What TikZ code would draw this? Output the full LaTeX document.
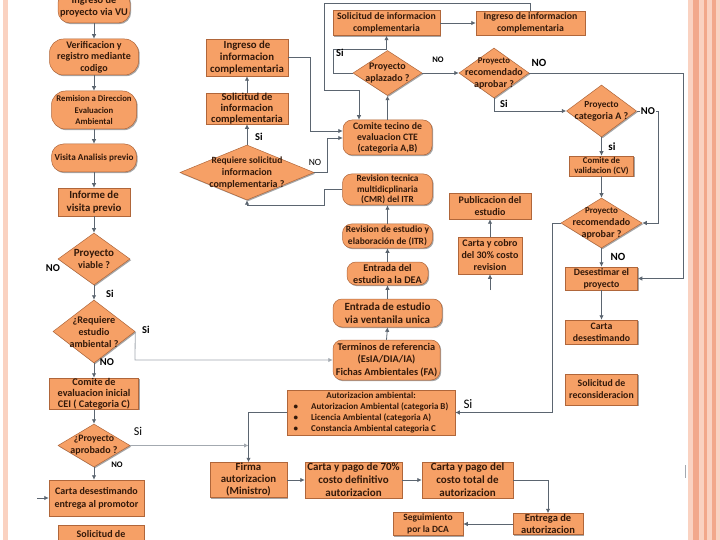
\documentclass[tikz,border=0pt]{standalone}
\usepackage{fontspec}
\setmainfont{Carlito}
\usetikzlibrary{shapes.geometric,arrows.meta,shadows}
\definecolor{boxc}{HTML}{F6A066}
\definecolor{bordc}{HTML}{B0663A}
\definecolor{txtc}{HTML}{33190A}
\definecolor{linec}{HTML}{5B6570}
\definecolor{faint}{HTML}{A3A9B0}
\definecolor{stripe}{HTML}{FAD2C1}
\definecolor{stripeD}{HTML}{F2A88B}
\tikzset{
 shp/.style={draw=bordc, fill=boxc, line width=0.5pt, drop shadow={shadow xshift=1.2pt, shadow yshift=-1.2pt, opacity=0.35, fill=black}},
 box/.style={shp, rectangle, inner sep=0pt, align=center, text=txtc, font=\bfseries\fontsize{10}{12}\selectfont},
 rbox/.style={box, rounded corners=9pt},
 dia/.style={shp, diamond, inner sep=0pt},
 dtxt/.style={align=center, text=txtc, font=\bfseries\fontsize{10}{12}\selectfont, inner sep=0pt},
 conn/.style={draw=linec, line width=0.8pt, -{Latex[length=4.5pt,width=4.5pt]}},
 fconn/.style={conn, draw=faint},
 lbl/.style={font=\bfseries\fontsize{10.5}{12}\selectfont, text=black, inner sep=0pt},
 lblr/.style={font=\fontsize{13}{14}\selectfont, text=black, inner sep=0pt},
}
\newcommand\mydia[6]{\node[dia, minimum width=#4pt, minimum height=#5pt] (#1) at (#2,#3) {};
 \node[dtxt] at (#1.center) {#6};}
\begin{document}
\begin{tikzpicture}[x=1pt,y=-1pt]
\useasboundingbox (0,0) rectangle (720,540);
\clip (0,0) rectangle (720,540);
\fill[white] (0,0) rectangle (720,540);
% page stripes
\fill[stripe] (3,0) rectangle (8,540);
\fill[stripe] (688,0) rectangle (720,540);
\fill[stripeD] (693,0) rectangle (699,540);
\fill[stripeD] (704,0) rectangle (707,540);
\fill[stripeD] (712,0) rectangle (716,540);
\draw[faint, line width=0.8pt] (685,465) -- (685,478);

% ---------- left column ----------
\node[rbox, rounded corners=12pt, minimum width=72pt, minimum height=32pt, font=\bfseries\fontsize{10.3}{12}\selectfont] (n1) at (94,7) {Ingreso de\\proyecto via VU};
\node[rbox, rounded corners=14pt, minimum width=89pt, minimum height=36pt, font=\bfseries\fontsize{10}{11.5}\selectfont] (n2) at (94,57) {Verificacion y\\registro mediante\\codigo};
\node[rbox, rounded corners=14pt, minimum width=85pt, minimum height=38pt, font=\bfseries\fontsize{8.7}{11.5}\selectfont] (n3) at (94,110) {Remision a Direccion\\Evaluacion\\Ambiental};
\node[rbox, rounded corners=12pt, minimum width=85pt, minimum height=28pt, font=\bfseries\fontsize{9.2}{11}\selectfont] (n4) at (94,158) {Visita Analisis previo};
\node[box, minimum width=72pt, minimum height=28pt, font=\bfseries\fontsize{10.8}{13}\selectfont] (n5) at (94,202) {Informe de\\visita previo};
\mydia{d1}{94}{259}{72}{52}{\fontsize{11}{13}\selectfont Proyecto\\viable ?}
\mydia{d2}{94}{331.5}{82}{63}{\fontsize{10.2}{12}\selectfont ¿Requiere\\estudio\\ambiental ?}
\node[box, minimum width=89pt, minimum height=31pt, font=\bfseries\fontsize{10.2}{11}\selectfont] (n6) at (94,393.5) {Comite de\\evaluacion inicial\\CEI ( Categoria C)};
\mydia{d3}{94}{445.5}{72}{43}{\fontsize{9.8}{12}\selectfont ¿Proyecto\\aprobado ?}
\node[box, minimum width=95pt, minimum height=36pt, font=\bfseries\fontsize{10}{13}\selectfont] (n7) at (96.5,498) {Carta desestimando\\entrega al promotor};
\node[box, minimum width=86pt, minimum height=30pt] (n8) at (101,540) {Solicitud de\\reconsideracion};

% ---------- left-middle ----------
\node[box, minimum width=82pt, minimum height=37pt, font=\bfseries\fontsize{10.8}{12}\selectfont] (l1) at (247,57.5) {Ingreso de\\informacion\\complementaria};
\node[box, minimum width=82pt, minimum height=31pt, font=\bfseries\fontsize{10.5}{11}\selectfont] (l2) at (247,108.5) {Solicitud de\\informacion\\complementaria};
\mydia{dE}{247}{172.5}{134}{55}{\fontsize{9.5}{12}\selectfont Requiere solicitud\\informacion\\complementaria ?}

% ---------- central column ----------
\node[box, minimum width=107pt, minimum height=25pt, font=\bfseries\fontsize{9.8}{11.5}\selectfont] (c1) at (386.5,23) {Solicitud de informacion\\complementaria};
\node[box, minimum width=109pt, minimum height=24pt, font=\bfseries\fontsize{9.8}{11.5}\selectfont] (c2) at (530.5,23) {Ingreso de informacion\\complementaria};
\mydia{dA}{387.5}{73}{69}{45}{Proyecto\\aplazado ?}
\mydia{dB}{494}{73}{70}{50}{\fontsize{8.8}{10.5}\selectfont Proyecto\\recomendado\\aprobar ?}
\node[rbox, minimum width=89pt, minimum height=35pt, font=\bfseries\fontsize{9.8}{11}\selectfont] (c3) at (387.5,137.5) {Comite tecino de\\evaluacion CTE\\(categoria A,B)};
\node[rbox, minimum width=90pt, minimum height=31pt, font=\bfseries\fontsize{9.3}{10.5}\selectfont] (c4) at (387.5,189.5) {Revision tecnica\\multidicplinaria\\(CMR) del ITR};
\node[rbox, minimum width=90pt, minimum height=24pt, font=\bfseries\fontsize{9.5}{11.5}\selectfont] (c5) at (387.5,236) {Revision de estudio y\\elaboración de (ITR)};
\node[rbox, minimum width=81pt, minimum height=23pt, font=\bfseries\fontsize{10.2}{12}\selectfont] (c6) at (387.5,273.5) {Entrada del\\estudio a la DEA};
\node[rbox, minimum width=109pt, minimum height=28pt, font=\bfseries\fontsize{11}{13.5}\selectfont] (c7) at (387.5,313) {Entrada de estudio\\via ventanila unica};
\node[rbox, minimum width=107pt, minimum height=40pt, font=\bfseries\fontsize{10.3}{12.5}\selectfont] (c8) at (386.5,360) {Terminos de referencia\\(EsIA/DIA/IA)\\Fichas Ambientales (FA)};
\node[box, minimum width=168pt, minimum height=45pt, font=\bfseries\fontsize{9}{11}\selectfont] (c9) at (371,412.5) {\begin{tabular}{@{}l@{\hspace{13pt}}l@{}}\multicolumn{2}{c}{Autorizacion ambiental:}\\ •&Autorizacion Ambiental (categoria B)\\ •&Licencia Ambiental (categoria A)\\ •&Constancia Ambiental categoria C\end{tabular}};
\node[box, minimum width=82pt, minimum height=26pt, font=\bfseries\fontsize{10}{12}\selectfont] (c10) at (490,206) {Publicacion del\\estudio};
\node[box, minimum width=64pt, minimum height=37pt, font=\bfseries\fontsize{10}{12}\selectfont] (c11) at (490,255.5) {Carta y cobro\\del 30\% costo\\revision};

% ---------- right column ----------
\mydia{dC}{601.5}{111}{70}{52}{\fontsize{9.3}{12}\selectfont Proyecto\\categoria A ?}
\node[box, minimum width=64pt, minimum height=20pt, font=\bfseries\fontsize{8.8}{10}\selectfont] (r1) at (601.5,166) {Comite de\\validacion (CV)};
\mydia{dD}{601.5}{223}{81}{50}{\fontsize{9}{11}\selectfont Proyecto\\recomendado\\aprobar ?}
\node[box, minimum width=72pt, minimum height=23pt, font=\bfseries\fontsize{9.8}{12}\selectfont] (r2) at (601.5,278.5) {Desestimar el\\proyecto};
\node[box, minimum width=72pt, minimum height=24pt, font=\bfseries\fontsize{9.8}{12}\selectfont] (r3) at (601.5,332) {Carta\\desestimando};
\node[box, minimum width=72pt, minimum height=31pt, font=\bfseries\fontsize{9.8}{12}\selectfont] (r4) at (601.5,389.5) {Solicitud de\\reconsideracion};

% ---------- bottom row ----------
\node[box, minimum width=77pt, minimum height=35pt, font=\bfseries\fontsize{10.8}{12}\selectfont] (b1) at (248.5,480) {Firma\\autorizacion\\(Ministro)};
\node[box, minimum width=97pt, minimum height=36pt, font=\bfseries\fontsize{11}{13}\selectfont] (b2) at (353.5,480) {Carta y pago de 70\%\\costo definitivo\\autorizacion};
\node[box, minimum width=91pt, minimum height=36pt, font=\bfseries\fontsize{11}{13}\selectfont] (b3) at (467.5,480) {Carta y pago del\\costo total de\\autorizacion};
\node[box, minimum width=70pt, minimum height=21pt, font=\bfseries\fontsize{10.5}{12}\selectfont] (b4) at (548,524) {Entrega de\\autorizacion};
\node[box, minimum width=70pt, minimum height=23pt, font=\bfseries\fontsize{9.5}{12}\selectfont] (b5) at (428,524) {Seguimiento\\por la DCA};

% ---------- connectors ----------
\draw[conn] (n1.south) -- (n2.north);
\draw[conn] (n2.south) -- (n3.north);
\draw[conn] (n3.south) -- (n4.north);
\draw[conn] (n4.south) -- (n5.north);
\draw[conn] (n5.south) -- (d1.north);
\draw[conn] (d1.south) -- (d2.north);
\draw[conn] (d2.south) -- (n6.north);
\draw[conn] (n6.south) -- (d3.north);
\draw[conn] (d3.south) -- (d3.south |- n7.north);
\coordinate (e1) at (37,498);
\draw[conn] (e1) -- (n7.west);
\draw[fconn] (d2.east) -- (135,360) -- (c8.west);
\draw[fconn] (d3.east) -- (d3.east -| b1.north);
\draw[conn] (c9.west) -| (b1.north);

\draw[conn] (l1.east) -- (310,57.5) -- (310,131) -- ([yshift=6.5pt]c3.west);
\draw[conn] (dE.east) -- (327,172.5) -- (327,138) -- ([yshift=-0.5pt]c3.west);
\draw[conn] (dE.north) -- (l2.south);
\draw[conn] (l2.north) -- (l1.south);
\draw[conn] (c4.west) -- (324,189.5) -- (324,205) -- (247,205) -- (dE.south);

\draw[conn] (c5.north) -- (c4.south);
\draw[conn] (c6.north) -- (c5.south);
\draw[conn] (c7.north) -- (c6.south);
\draw[conn] (c8.north) -- (c7.south);
\draw[conn] (c3.north) -- (dA.south);
\draw[conn] (dA.west) -- (333,73) -- (333,49) -- (386.5,49) -- (c1.south);
\draw[conn] (dA.east) -- (dB.west);
\draw[conn] (c1.east) -- (c2.west);
\draw[conn] (c2.north) -- (530.5,3) -- (324,3) -- (324,90) -- (359,90) -- ([xshift=-28.5pt]c3.north);
\draw[conn] (dB.east) -- (683,73) -- (683,278.5) -- (r2.east);
\draw[conn] (dB.south) -- (494,111) -- (dC.west);
\draw[conn] (dC.east) -- (658,111) -- (658,223) -- (dD.east);
\draw[conn] (dC.south) -- (r1.north);
\draw[conn] (r1.south) -- (dD.north);
\draw[conn] (dD.south) -- (r2.north);
\draw[conn] (r2.south) -- (r3.north);
\draw[conn] (dD.west) -- (552,223) -- (552,412.5) -- (c9.east);
\draw[conn] (c11.north) -- (c10.south);
\coordinate (e2) at (490,290);
\draw[conn] (e2) -- (c11.south);

\draw[conn] (b1.east) -- (b2.west);
\draw[conn] (b2.east) -- (b3.west);
\draw[conn] (b3.east) -| (b4.north);
\draw[conn] (b4.west) -- (b5.east);

% ---------- labels ----------
\node[lbl] at (53,268) {NO};
\node[lbl] at (110,294) {Si};
\node[lbl] at (146,330) {Si};
\node[lbl] at (107,362) {NO};
\node[lblr, font=\fontsize{12}{13}\selectfont] at (138,431) {Si};
\node[lbl, font=\bfseries\fontsize{8.5}{9}\selectfont] at (117,465) {NO};
\node[lbl] at (259,137) {Si};
\node[lbl, font=\fontsize{9.5}{10}\selectfont] at (315,162) {NO};
\node[lbl] at (340,53) {Si};
\node[lbl, font=\bfseries\fontsize{8.5}{9}\selectfont] at (438,60) {NO};
\node[lbl, font=\bfseries\fontsize{11}{12}\selectfont] at (539,63) {NO};
\node[lbl] at (504,104) {Si};
\node[lbl, fill=white, inner sep=0.5pt] at (648,111) {NO};
\node[lbl, font=\bfseries\fontsize{11}{12}\selectfont] at (612,147) {si};
\node[lbl, font=\bfseries\fontsize{11}{12}\selectfont] at (618,257) {NO};
\node[lblr] at (468,404) {Si};
\end{tikzpicture}
\end{document}
